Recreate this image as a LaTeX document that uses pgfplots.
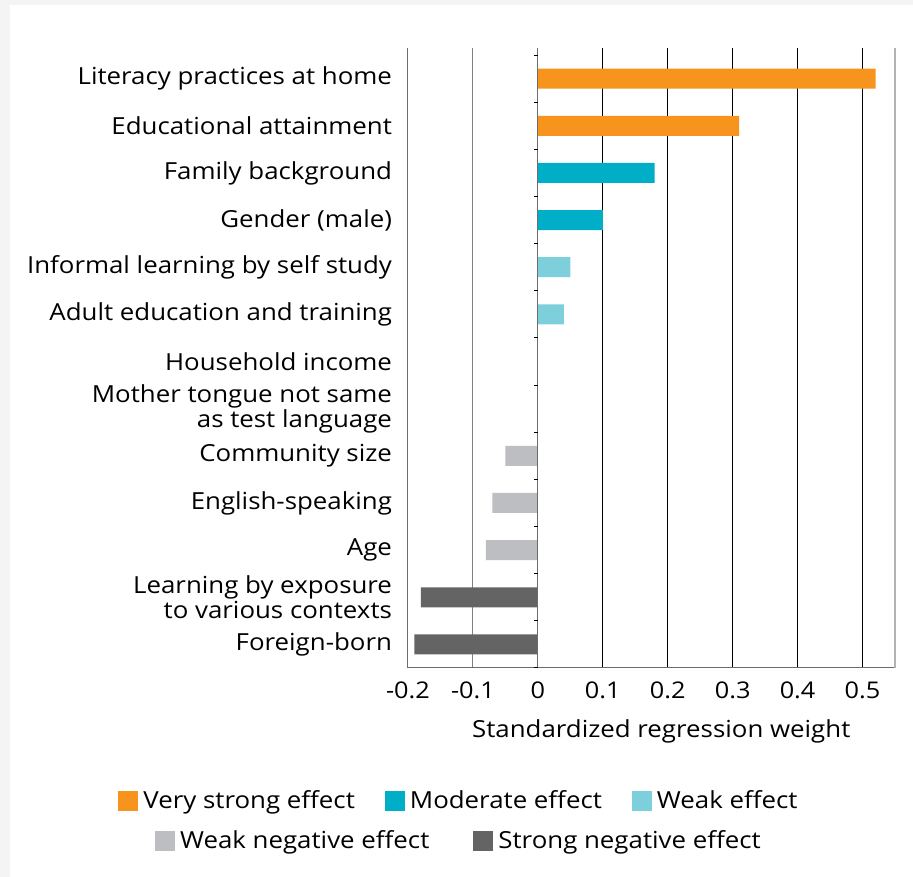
\documentclass[border=0pt]{standalone}
\usepackage{fontspec}
\setmainfont[FakeStretch=1.10]{Open Sans}
\usepackage{pgfplots}
\pgfplotsset{compat=1.18}

\definecolor{cVStrong}{RGB}{247,148,30}
\definecolor{cModerate}{RGB}{0,174,199}
\definecolor{cWeak}{RGB}{125,207,220}
\definecolor{cWeakNeg}{RGB}{189,190,194}
\definecolor{cStrongNeg}{RGB}{100,100,100}
\definecolor{cFrame}{RGB}{244,244,244}

\newcommand{\lblfont}{\fontsize{23.5}{25}\selectfont}
\pgfplotsset{
  swatch/.style={
    legend image code/.code={
      \fill[##1] (0pt,-10pt) rectangle (20pt,10pt);}},
}

\begin{document}
\lblfont
\begin{tikzpicture}
% page frame
\fill[cFrame] (0pt,0pt) rectangle (913pt,877pt);
\fill[white] (10pt,0pt) rectangle (913pt,872pt);

\begin{axis}[
  at={(408pt,209pt)}, anchor=south west,
  scale only axis,
  width=487pt, height=620pt,
  xbar, bar shift=0pt, bar width=20pt,
  xmin=-0.2, xmax=0.55,
  ymin=-0.5, ymax=12.65,
  xtick={-0.2,-0.1,0,0.1,0.2,0.3,0.4,0.5},
  xticklabels={-0.2,-0.1,0,0.1,0.2,0.3,0.4,0.5},
  ytick={0,...,12},
  yticklabels={Foreign-born,
    {Learning by exposure\\to various contexts},
    Age, English-speaking, Community size,
    {Mother tongue not same\\as test language},
    Household income, Adult education and training,
    Informal learning by self study, Gender (male),
    Family background, Educational attainment,
    Literacy practices at home},
  yticklabel style={align=right, font=\lblfont, xshift=-8pt},
  xticklabel style={font=\fontsize{23}{24}\selectfont, yshift=-6pt},
  major tick length=0pt,
  axis line style={draw=none},
  xlabel={Standardized regression weight},
  xlabel style={font=\lblfont, at={(rel axis cs:0.52,0)}, anchor=north, yshift=-44pt},
  clip=false,
  legend columns=3,
  legend style={draw=none, fill=none, at={(0.1047,-0.2145)}, anchor=center,
    font=\lblfont,
    /tikz/every even column/.append style={column sep=28pt},
    /tikz/column sep=3pt},
]
% grid lines, behind the bars
\draw[gray, line width=1pt] (axis cs:-0.1,-0.5) -- (axis cs:-0.1,12.65);
\pgfplotsinvokeforeach{0.1,0.2,0.3,0.4,0.5}{
  \draw[black, line width=0.8pt] (axis cs:#1,-0.5) -- (axis cs:#1,12.65);
}
\addplot[fill=cVStrong, draw=none, swatch] coordinates {(0.52,12) (0.31,11)};
\addplot[fill=cModerate, draw=none, swatch] coordinates {(0.18,10) (0.10,9)};
\addplot[fill=cWeak, draw=none, swatch] coordinates {(0.05,8) (0.04,7)};
\addplot[fill=cWeakNeg, draw=none, forget plot] coordinates {(-0.05,4) (-0.07,3) (-0.08,2)};
\addplot[fill=cStrongNeg, draw=none, forget plot] coordinates {(-0.18,1) (-0.19,0)};
\legend{Very strong effect, Moderate effect, Weak effect}

% axis frame: left, bottom, right; zero line with small ticks
\draw[gray!85!black, line width=1pt] (rel axis cs:0,1) -- (rel axis cs:0,0) -- (rel axis cs:1,0);
\draw[gray!60, line width=1.2pt] (rel axis cs:1,0) -- (rel axis cs:1,1);
\draw[gray!85!black, line width=1pt] (axis cs:0,-0.5) -- (axis cs:0,12.65);
\pgfplotsinvokeforeach{-0.5,0.5,1.5,2.5,3.5,4.5,5.5,6.5,7.5,8.5,9.5,10.5,11.5,12.5}{
  \draw[black, line width=1pt] (axis cs:0,#1) -- ++(-4pt,0pt);
}
\end{axis}

% second legend row
\begin{axis}[
  at={(408pt,209pt)}, anchor=south west,
  scale only axis, width=487pt, height=620pt,
  hide axis, xmin=0, xmax=1, ymin=0, ymax=1,
  legend columns=2,
  legend style={draw=none, fill=none, at={(0.1047,-0.279)}, anchor=center,
    font=\lblfont,
    /tikz/every even column/.append style={column sep=42pt},
    /tikz/column sep=3pt},
]
\addlegendimage{area legend, fill=cWeakNeg, draw=none, swatch}
\addlegendentry{Weak negative effect}
\addlegendimage{area legend, fill=cStrongNeg, draw=none, swatch}
\addlegendentry{Strong negative effect}
\end{axis}
\end{tikzpicture}
\end{document}
